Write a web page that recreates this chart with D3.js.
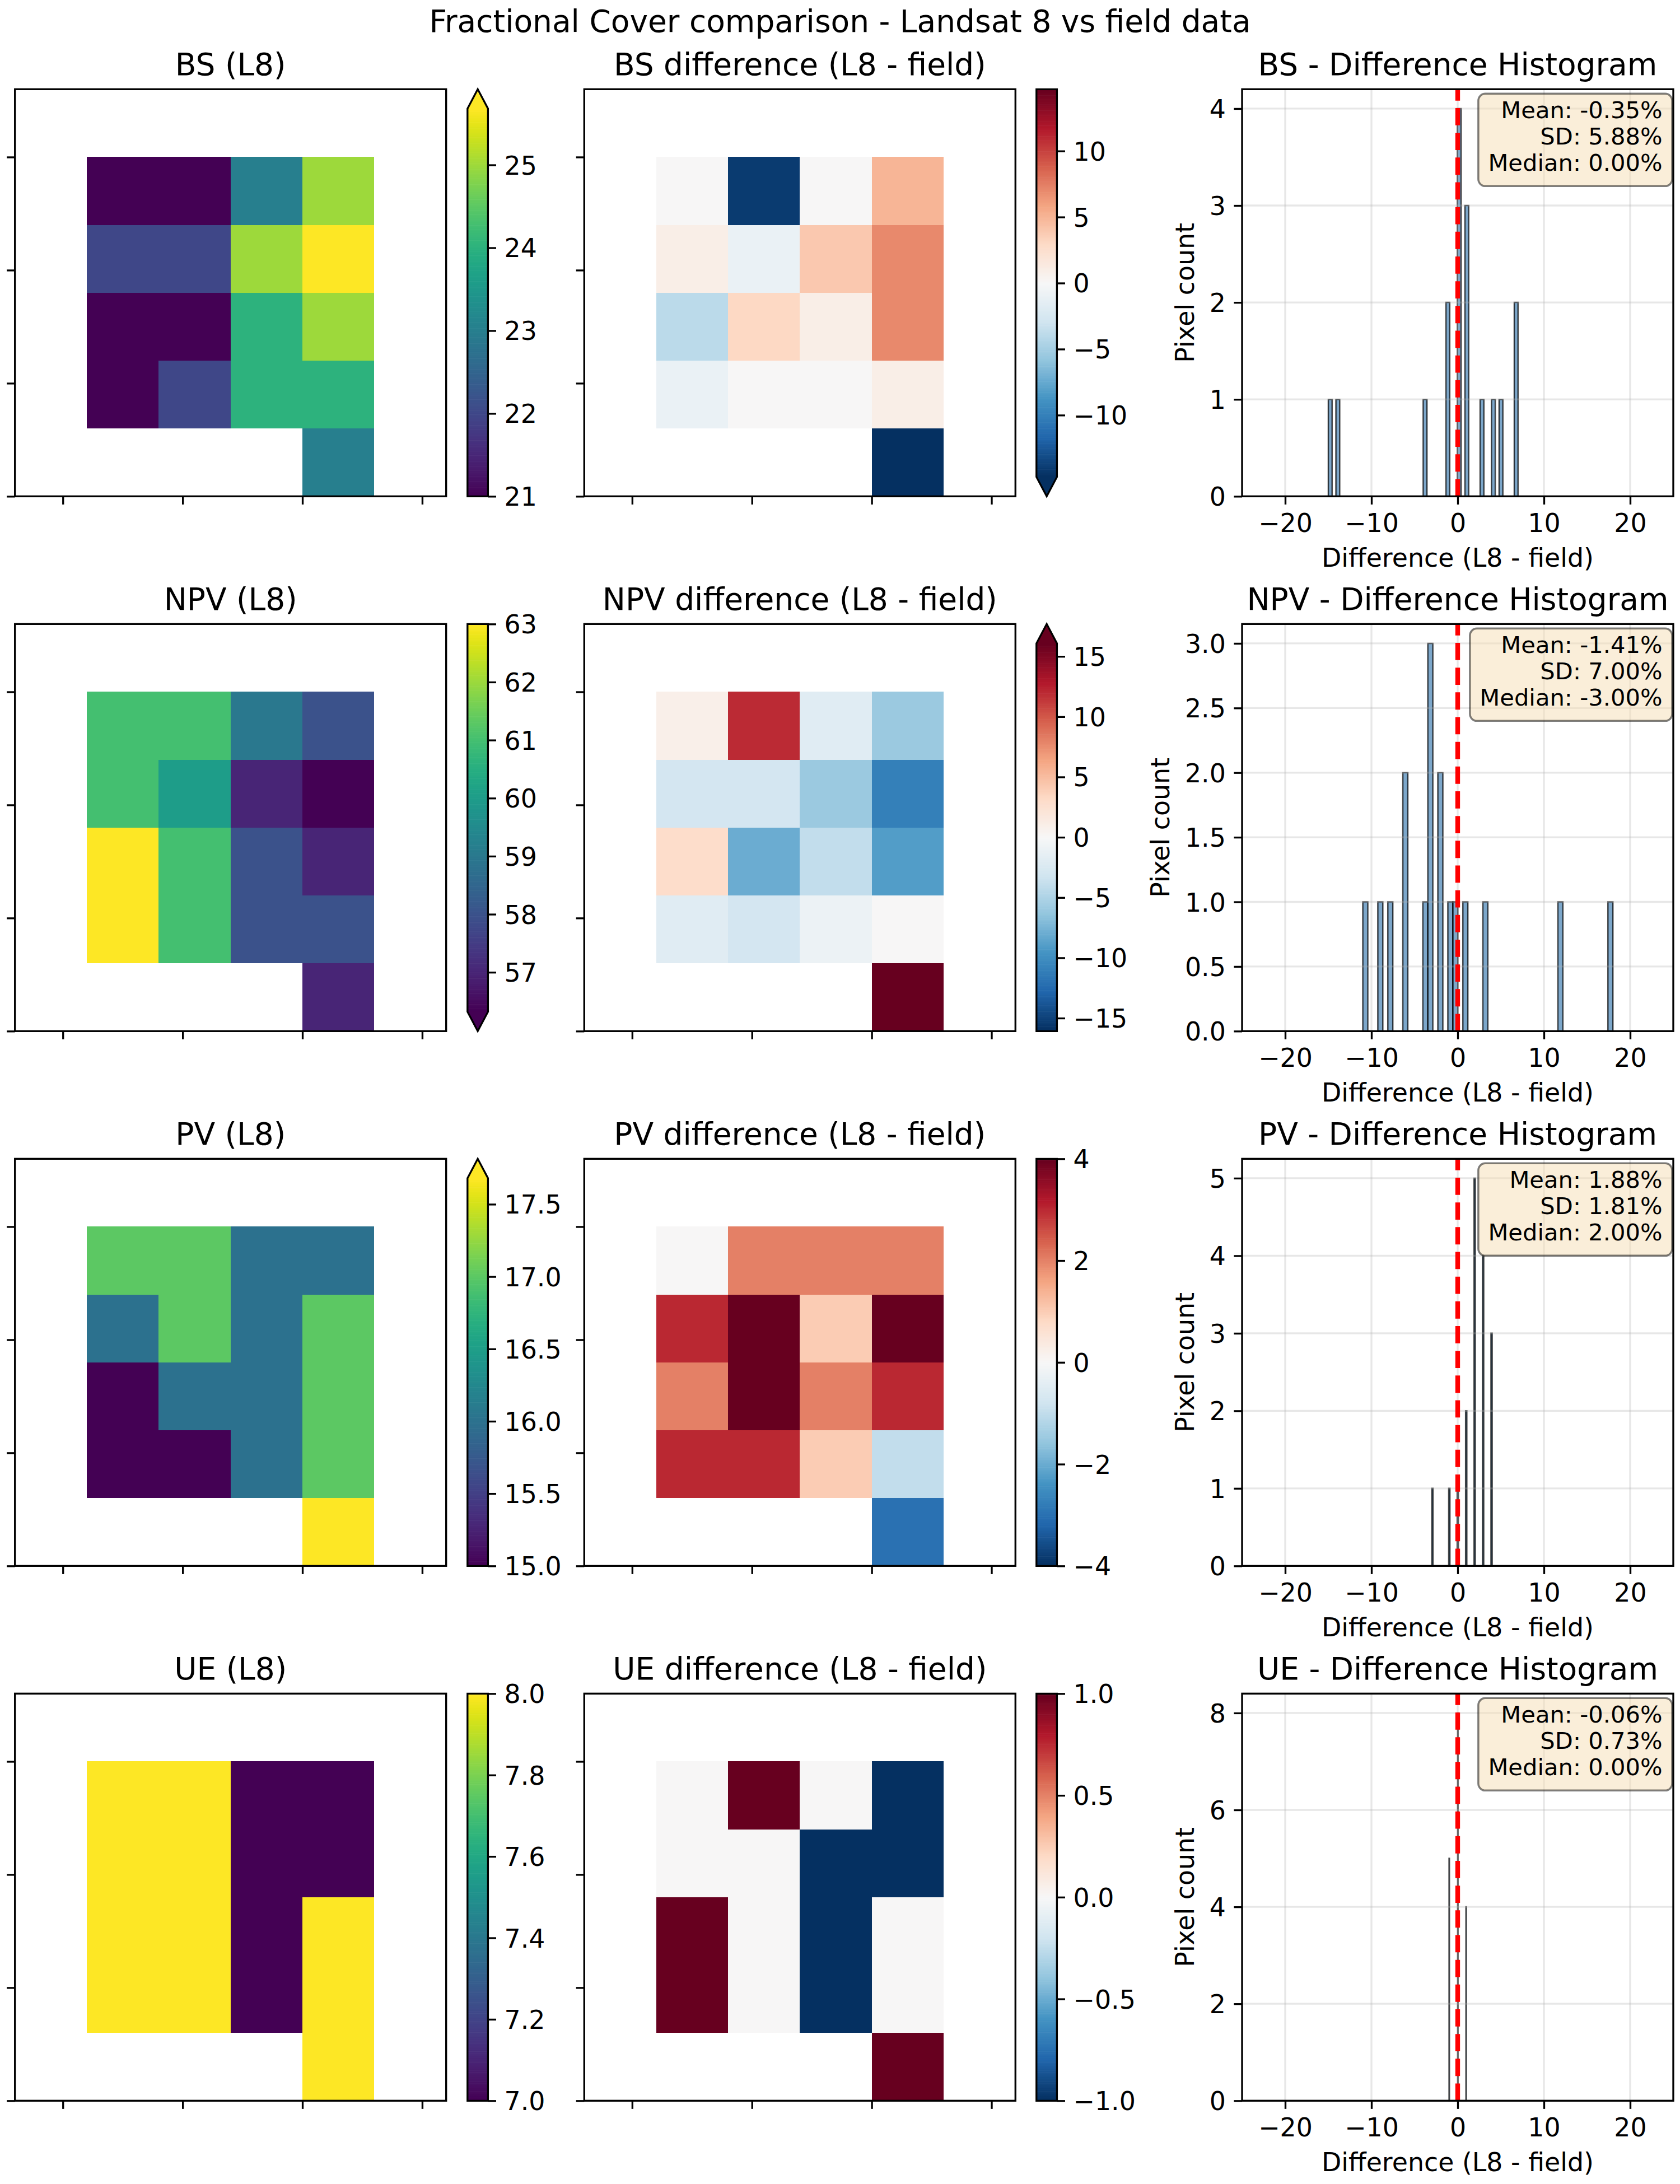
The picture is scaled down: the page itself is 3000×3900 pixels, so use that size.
<!DOCTYPE html>
<html><head><meta charset="utf-8">
<script src="https://cdn.jsdelivr.net/npm/d3@7"></script>
<style>body{margin:0;background:#fff}svg{display:block}text{font-family:"DejaVu Sans",sans-serif}</style>
</head><body><svg id="chart" width="3000" height="3900"></svg>
<script>
// ---------------- data ----------------
const categories = ["BS", "NPV", "PV", "UE"];
const _ = null;
const bsL8 = [
  [_,_,_,_,_,_],
  [_,21,21,23,25,_],
  [_,22,22,25,26,_],
  [_,21,21,24,25,_],
  [_,21,22,24,24,_],
  [_,_,_,_,23,_]];
const bsDiff = [
  [_,_,_,_,_,_],
  [_,0,-14,0,5,_],
  [_,1,-1,4,7,_],
  [_,-4,3,1,7,_],
  [_,-1,0,0,1,_],
  [_,_,_,_,-15,_]];
const npvL8 = [
  [_,_,_,_,_,_],
  [_,61,61,59,58,_],
  [_,61,60,57,56,_],
  [_,63,61,58,57,_],
  [_,63,61,58,58,_],
  [_,_,_,_,57,_]];
const npvDiff = [
  [_,_,_,_,_,_],
  [_,1,12,-2,-6,_],
  [_,-3,-3,-6,-11,_],
  [_,3,-8,-4,-9,_],
  [_,-2,-3,-1,0,_],
  [_,_,_,_,18,_]];
const pvL8 = [
  [_,_,_,_,_,_],
  [_,17,17,16,16,_],
  [_,16,17,16,17,_],
  [_,15,16,16,17,_],
  [_,15,15,16,17,_],
  [_,_,_,_,18,_]];
const pvDiff = [
  [_,_,_,_,_,_],
  [_,0,2,2,2,_],
  [_,3,4,1,4,_],
  [_,2,4,2,3,_],
  [_,3,3,1,-1,_],
  [_,_,_,_,-3,_]];
const ueL8 = [
  [_,_,_,_,_,_],
  [_,8,8,7,7,_],
  [_,8,8,7,7,_],
  [_,8,8,7,8,_],
  [_,8,8,7,8,_],
  [_,_,_,_,8,_]];
const ueDiff = [
  [_,_,_,_,_,_],
  [_,0,1,0,-1,_],
  [_,0,0,-1,-1,_],
  [_,1,0,-1,0,_],
  [_,1,0,-1,0,_],
  [_,_,_,_,1,_]];

// tick values
const bsL8Ticks = [21,22,23,24,25];
const npvL8Ticks = [57,58,59,60,61,62,63];
const pvL8Ticks = [15,15.5,16,16.5,17,17.5];
const ueL8Ticks = [7,7.2,7.4,7.6,7.8,8];
const bsDiffTicks = [-10,-5,0,5,10];
const npvDiffTicks = [-15,-10,-5,0,5,10,15];
const pvDiffTicks = [-4,-2,0,2,4];
const ueDiffTicks = [-1,-0.5,0,0.5,1];
const bsHistYTicks = [0,1,2,3,4];
const npvHistYTicks = [0,0.5,1,1.5,2,2.5,3];
const pvHistYTicks = [0,1,2,3,4,5];
const ueHistYTicks = [0,2,4,6,8];
const histXTicks = [-20,-10,0,10,20];
const mapXTicks = [20,70,120,170];
const mapYTicks = [0,50,100,150];

const rows = [
  {cat: categories[0], l8: bsL8, diff: bsDiff, l8T: bsL8Ticks, l8F: "d", dT: bsDiffTicks, dF: "d", hT: bsHistYTicks, hF: "d"},
  {cat: categories[1], l8: npvL8, diff: npvDiff, l8T: npvL8Ticks, l8F: "d", dT: npvDiffTicks, dF: "d", hT: npvHistYTicks, hF: ".1f"},
  {cat: categories[2], l8: pvL8, diff: pvDiff, l8T: pvL8Ticks, l8F: ".1f", dT: pvDiffTicks, dF: "d", hT: pvHistYTicks, hF: "d"},
  {cat: categories[3], l8: ueL8, diff: ueDiff, l8T: ueL8Ticks, l8F: ".1f", dT: ueDiffTicks, dF: ".1f", hT: ueHistYTicks, hF: "d"}
];

// ---------------- layout ----------------
const PT = 300/72;
const FS = 11*PT, FS_T = 13.2*PT, FS_S = 10*PT;
const LW = 0.8*PT, TICK = 3.5*PT, PAD = 3.5*PT;
const axW = 770, axH = 727;
const rowTop = [159.3, 1114.3, 2069.3, 3024.3];
const colLeft = [26.7, 1043.3, 2218];
const cbLeft = [834.8, 1850.8], cbW = 36.6;

const svg = d3.select("#chart");
svg.append("rect").attr("width",3000).attr("height",3900).attr("fill","#fff");

const rdbuStops = ["#053061","#2166ac","#4393c3","#92c5de","#d1e5f0","#f7f7f7","#fddbc7","#f4a582","#d6604d","#b2182b","#67001f"];
const rdbuR = d3.scaleLinear().domain(d3.range(11).map(i=>i/10)).range(rdbuStops).interpolate(d3.interpolateRgb);
function lut(fn){ return t => { t = Math.max(0, Math.min(1, t)); const i = Math.min(255, Math.floor(t*256)); return fn(i/255); }; }
const viridisL = lut(d3.interpolateViridis);
const rdbuL = lut(rdbuR);

function styleAxis(sel){
  sel.select(".domain").remove();
  sel.attr("font-size", FS).attr("font-family", "DejaVu Sans");
  sel.selectAll(".tick line").attr("stroke","#000").attr("stroke-width",LW);
  sel.selectAll(".tick text").attr("fill","#000");
}

function title(g, cx, top, txt){
  g.append("text").attr("x",cx).attr("y",top-25).attr("text-anchor","middle")
   .attr("font-size",FS_T).attr("fill","#000").text(txt);
}

function heatmap(g, left, top, grid, cfn){
  const x = d3.scaleLinear([0,180],[left,left+axW]);
  const y = d3.scaleLinear([0,180],[top+axH, top]);
  const cells = [];
  grid.forEach((row,r)=>row.forEach((v,c)=>{ if(v!==null) cells.push({r,c,v}); }));
  g.append("g").selectAll("rect").data(cells).join("rect")
    .attr("x", d=>x(d.c*30)).attr("y", d=>y(180-d.r*30))
    .attr("width", d=>x((d.c+1)*30)-x(d.c*30))
    .attr("height", d=>y(180-(d.r+1)*30)-y(180-d.r*30))
    .attr("fill", d=>cfn(d.v)).attr("shape-rendering","crispEdges");
  g.append("g").attr("transform",`translate(0,${top+axH})`)
    .call(d3.axisBottom(x).tickValues(mapXTicks).tickFormat("").tickSize(TICK)).call(styleAxis);
  g.append("g").attr("transform",`translate(${left},0)`)
    .call(d3.axisLeft(y).tickValues(mapYTicks).tickFormat("").tickSize(TICK)).call(styleAxis);
  g.append("rect").attr("x",left).attr("y",top).attr("width",axW).attr("height",axH)
    .attr("fill","none").attr("stroke","#000").attr("stroke-width",LW);
}

function colorbar(g, x0, top, vmin, vmax, tfn, ext, ticks, fmt){
  const nExt = (ext.min?1:0)+(ext.max?1:0);
  const L = axH/(1+0.05*nExt), e = 0.05*L;
  const bTop = top + (ext.max?e:0), bBot = bTop + L;
  const s = d3.scaleLinear([vmin,vmax],[bBot,bTop]);
  const N = 256;
  const strips = d3.range(N).map(i=>({v0: vmin+i*(vmax-vmin)/N, v1: vmin+(i+1)*(vmax-vmin)/N, t:(i+0.5)/N}));
  g.append("g").selectAll("rect").data(strips).join("rect")
    .attr("x",x0).attr("width",cbW).attr("y",d=>s(d.v1)).attr("height",d=>s(d.v0)-s(d.v1)+0.6)
    .attr("fill",d=>tfn(d.t));
  if (ext.max) g.append("path").attr("d",`M${x0},${bTop}L${x0+cbW/2},${top}L${x0+cbW},${bTop}Z`).attr("fill",tfn(1));
  if (ext.min) g.append("path").attr("d",`M${x0},${bBot}L${x0+cbW/2},${bBot+e}L${x0+cbW},${bBot}Z`).attr("fill",tfn(0));
  let d = ext.max ? `M${x0},${bTop}L${x0+cbW/2},${top}L${x0+cbW},${bTop}` : `M${x0},${bTop}H${x0+cbW}`;
  d += `V${bBot}`;
  d += ext.min ? `L${x0+cbW/2},${bBot+e}L${x0},${bBot}Z` : `H${x0}Z`;
  const ax = g.append("g").attr("transform",`translate(${x0+cbW},0)`)
    .call(d3.axisRight(s).tickValues(ticks).tickFormat(d3.format(fmt)).tickSize(TICK).tickPadding(PAD)).call(styleAxis);
  ax.selectAll(".tick text").attr("dy","0.36em");
  g.append("path").attr("d",d).attr("fill","none").attr("stroke","#000").attr("stroke-width",LW).attr("stroke-linejoin","miter");
}

function flat(grid){ return grid.flat().filter(v=>v!==null); }

function hist(g, left, top, values, yTicks, yFmt){
  const x = d3.scaleLinear([-25,25],[left,left+axW]);
  const mn = d3.min(values), mx = d3.max(values);
  const bw = (mx-mn)/50;
  const thresholds = d3.range(1,50).map(i=>mn+i*bw);
  const bins = d3.bin().domain([mn,mx]).thresholds(thresholds)(values);
  const ymax = d3.max(bins, b=>b.length)*1.05;
  const y = d3.scaleLinear([0,ymax],[top+axH, top]);
  const bottom = top+axH;
  g.append("g").selectAll("path").data(bins).join("path")
    .attr("d", b=>`M${x(b.x0)},${y(0)}V${y(b.length)}H${x(b.x1)}V${y(0)}Z`)
    .attr("fill","steelblue").attr("fill-opacity",0.7)
    .attr("stroke","#000").attr("stroke-opacity",0.7).attr("stroke-width",2.5);
  // grid
  const grid = g.append("g").attr("stroke","#b0b0b0").attr("stroke-opacity",0.3).attr("stroke-width",LW);
  grid.selectAll(".gx").data(histXTicks).join("line").attr("x1",d=>x(d)).attr("x2",d=>x(d)).attr("y1",top).attr("y2",bottom);
  grid.selectAll(".gy").data(yTicks).join("line").attr("y1",d=>y(d)).attr("y2",d=>y(d)).attr("x1",left).attr("x2",left+axW);
  // zero line
  g.append("line").attr("x1",x(0)).attr("x2",x(0)).attr("y1",bottom).attr("y2",top)
    .attr("stroke","red").attr("stroke-width",2*PT).attr("stroke-dasharray",`${7.4*PT},${3.2*PT}`);
  const ax = g.append("g").attr("transform",`translate(0,${bottom})`)
    .call(d3.axisBottom(x).tickValues(histXTicks).tickFormat(d3.format("d")).tickSize(TICK).tickPadding(PAD)).call(styleAxis);
  ax.selectAll(".tick text").attr("dy","0.76em");
  const ay = g.append("g").attr("transform",`translate(${left},0)`)
    .call(d3.axisLeft(y).tickValues(yTicks).tickFormat(d3.format(yFmt)).tickSize(TICK).tickPadding(PAD)).call(styleAxis);
  ay.selectAll(".tick text").attr("dy","0.36em");
  let maxW = 0;
  ay.selectAll(".tick text").each(function(){ maxW = Math.max(maxW, this.getComputedTextLength()); });
  g.append("rect").attr("x",left).attr("y",top).attr("width",axW).attr("height",axH)
    .attr("fill","none").attr("stroke","#000").attr("stroke-width",LW);
  // labels
  g.append("text").attr("x",left+axW/2).attr("y",bottom+126).attr("text-anchor","middle")
    .attr("font-size",FS).attr("fill","#000").text("Difference (L8 - field)");
  const lx = left - TICK - PAD - maxW - 4*PT - 0.236*FS;
  g.append("text").attr("transform",`translate(${lx},${top+axH/2}) rotate(-90)`).attr("text-anchor","middle")
    .attr("font-size",FS).attr("fill","#000").text("Pixel count");
  // stats box
  const mean = d3.mean(values);
  const sd = Math.sqrt(d3.mean(values, v=>(v-mean)*(v-mean)));
  const med = d3.median(values);
  const lines = [`Mean: ${mean.toFixed(2)}%`, `SD: ${sd.toFixed(2)}%`, `Median: ${med.toFixed(2)}%`];
  const tx = left+axW-19.5, b1 = top+52;
  const box = g.append("rect");
  const tg = g.append("g");
  let tw = 0;
  lines.forEach((s,i)=>{
    const t = tg.append("text").attr("x",tx).attr("y",b1+i*47).attr("text-anchor","end")
      .attr("font-size",FS_S).attr("fill","#000").text(s);
    tw = Math.max(tw, t.node().getComputedTextLength());
  });
  const pad = 17.5;
  box.attr("x",tx-tw-pad).attr("y",b1-44).attr("width",tw+2*pad).attr("height",44+94+27)
    .attr("rx",12.5).attr("ry",12.5).attr("fill","#f5deb3").attr("fill-opacity",0.5)
    .attr("stroke","#000").attr("stroke-opacity",0.5).attr("stroke-width",3.5);
}

// ---------------- draw ----------------
svg.append("text").attr("x",1500).attr("y",57).attr("text-anchor","middle")
  .attr("font-size",FS_T).attr("fill","#000").text("Fractional Cover comparison - Landsat 8 vs field data");

rows.forEach((R, i)=>{
  const top = rowTop[i];
  const g = svg.append("g");
  // L8 map
  const v = flat(R.l8).sort(d3.ascending);
  const vmin = d3.quantile(v, 0.02), vmax = d3.quantile(v, 0.98);
  const tf = t => viridisL(t);
  heatmap(g, colLeft[0], top, R.l8, val => viridisL((val-vmin)/(vmax-vmin)));
  colorbar(g, cbLeft[0], top, vmin, vmax, tf, {min: d3.min(v)<vmin, max: d3.max(v)>vmax}, R.l8T, R.l8F);
  title(g, colLeft[0]+axW/2, top, `${R.cat} (L8)`);
  // diff map
  const dv = flat(R.diff);
  const av = dv.map(Math.abs).sort(d3.ascending);
  const vl = d3.quantile(av, 0.98);
  heatmap(g, colLeft[1], top, R.diff, val => rdbuL((val+vl)/(2*vl)));
  colorbar(g, cbLeft[1], top, -vl, vl, t => rdbuL(t), {min: d3.min(dv)<-vl, max: d3.max(dv)>vl}, R.dT, R.dF);
  title(g, colLeft[1]+axW/2, top, `${R.cat} difference (L8 - field)`);
  // histogram
  hist(g, colLeft[2], top, dv, R.hT, R.hF);
  title(g, colLeft[2]+axW/2, top, `${R.cat} - Difference Histogram`);
});
</script></body></html>
